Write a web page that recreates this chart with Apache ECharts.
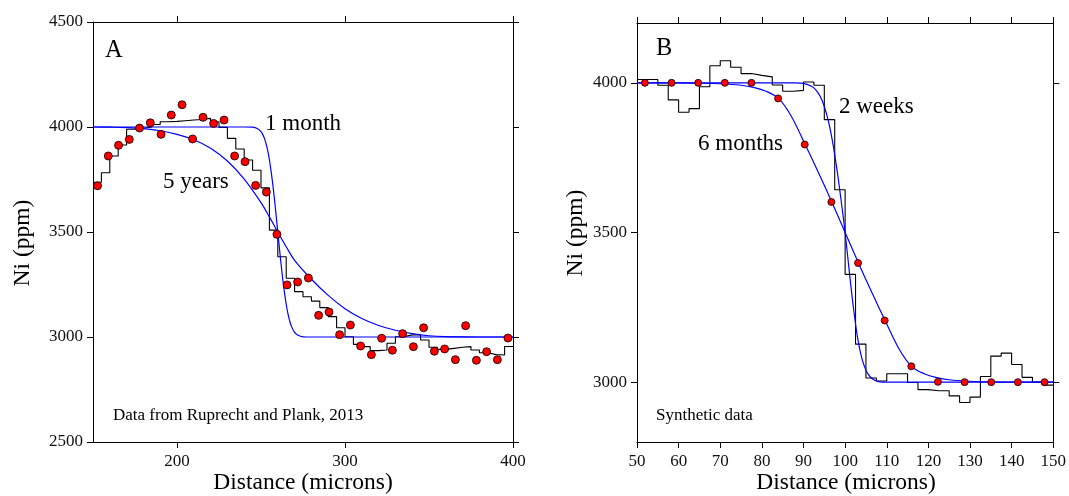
<!DOCTYPE html>
<html><head><meta charset="utf-8">
<script src="https://cdn.jsdelivr.net/npm/echarts@6/dist/echarts.min.js"></script>
<style>html,body{margin:0;padding:0;background:#fff}#c{width:1069px;height:496px}</style>
</head><body><div id="c"></div>
<script>
// ---------- Panel A (Data from Ruprecht and Plank, 2013) ----------
const aPointX = [152.7,159.1,165.2,171.6,177.7,184.1,190.5,196.6,203.0,209.3,215.5,221.8,228.0,234.3,240.5,246.8,253.2,259.5,265.5,271.8,278.2,284.3,290.5,296.8,303.2,309.3,315.7,321.8,328.2,334.3,340.7,346.8,353.2,359.3,365.7,371.8,378.2,384.3,390.7,397.0];
const aPointY = [3720,3862,3913,3941,3995,4020,3965,4057,4106,3943,4046,4017,4033,3862,3835,3722,3690,3489,3248,3262,3281,3103,3119,3011,3057,2957,2916,2994,2937,3016,2954,3044,2932,2943,2892,3054,2889,2930,2892,2995];
const aStepX = [150,155,160,165,170,175,180,185,190,195,200,205,210,215,220,225,230,235,240,245,250,255,260,265,270,275,280,285,290,295,300,305,310,315,320,325,330,335,340,345,350,355,360,365,370,375,380,385,390,395,400];
const aStepY = [3737,3782,3862,3914,3989,3994,4000,4012,4025,4027,4030,4033,4036,4041,4025,3998,3946,3895,3843,3794,3710,3509,3382,3280,3216,3192,3171,3140,3097,3044,3001,2965,2954,2935,2938,2970,3001,3010,3010,2986,2951,2941,2946,2951,2954,2938,2925,2916,2914,2955,2955];
const aMonthX = [150,200,230,240,245,248,250,251,252,253,254,255,256,257,258,259,260,261,262,263,264,265,266,267,268,270,272,275,280,300,350,400];
const aMonthY = [4000,4000,4000,4000,3999,3992,3978,3965,3947,3921,3887,3844,3790,3728,3657,3580,3500,3420,3343,3272,3210,3156,3113,3079,3053,3022,3008,3001,3000,3000,3000,3000];
const aYearsX = [150,160,170,180,190,200,210,220,230,240,250,255,260,265,270,280,290,300,310,320,330,340,350,360,380,400];
const aYearsY = [4000,3999,3997,3992,3982,3965,3939,3899,3838,3752,3640,3572,3500,3430,3365,3275,3198,3135,3088,3055,3032,3016,3006,3002,3000,3000];
const aXTicks = [200,300,400];

// ---------- Panel B (Synthetic data) ----------
const bPointX = [51.9,58.3,64.7,71.1,77.5,83.9,90.3,96.7,103.1,109.5,115.9,122.3,128.7,135.1,141.5,147.9];
const bPointY = [4000,4000,4000,4000,4000,3948,3794,3602,3398,3206,3053,3001,3000,3000,3000,3000];
const bStepX = [50,52.5,55,57.5,60,62.5,65,67.5,70,72.5,75,77.5,80,82.5,85,87.5,90,92.5,95,97.5,100,102.5,105,107.5,110,112.5,115,117.5,120,122.5,125,127.5,130,132.5,135,137.5,140,142.5,145,147.5,150];
const bStepY = [4011,4011,3992,3943,3902,3914,3987,4057,4074,4052,4031,4025,4020,3993,3972,3975,4003,3992,3877,3643,3360,3127,3014,3004,3028,3028,2999,2975,2971,2971,2954,2932,2950,3019,3087,3097,3059,3016,3000,2990,2990];
const bWeeksX = [50,80,88,90,92,93,94,95,96,97,98,99,100,101,102,103,104,105,106,107,108,110,112,120,150];
const bWeeksY = [4000,4000,4000,3998,3988,3976,3955,3921,3871,3802,3714,3611,3500,3370,3248,3148,3080,3040,3018,3007,3002,3000,3000,3000,3000];
const bMonthsX = [50,60,65,70,75,78,81,84,87,90.4,93.6,96.8,100,103.2,106.4,109.6,113,116,119,122,125,130,135,140,150];
const bMonthsY = [4000,4000,3999,3997,3992,3985,3972,3948,3890,3794,3700,3602,3500,3398,3300,3206,3110,3052,3028,3015,3008,3003,3001,3000,3000];
const bYTicks = [3000,3500,4000];

const FONT = '"Liberation Serif", "Times New Roman", serif';
const pairs = (xs, ys) => xs.map((x, i) => [x, ys[i]]);
const plain = v => String(v);

const lineCol = '#000';
function mkAxis(grid, pos, min, max, extra, showLabel, margin) {
  const a = {
    type: 'value', gridIndex: grid, position: pos, min: min, max: max,
    axisLine: { show: true, onZero: false, lineStyle: { color: lineCol, width: 1 } },
    axisTick: { show: true, length: 6, inside: false, lineStyle: { color: lineCol, width: 1 } },
    axisLabel: { show: showLabel, margin: margin, fontSize: 17, fontFamily: FONT, color: '#111', formatter: plain },
    splitLine: { show: false }
  };
  Object.assign(a, extra.axis || {});
  if (extra.ticks) { a.axisTick.customValues = extra.ticks; a.axisLabel.customValues = extra.ticks; }
  return a;
}

const BLUE = '#0000ff';
function curve(xi, yi, xs, ys) {
  return { type: 'line', xAxisIndex: xi, yAxisIndex: yi, data: pairs(xs, ys), showSymbol: false, symbol: 'none',
    smooth: 0.35, lineStyle: { color: BLUE, width: 1.2 }, z: 3, silent: true };
}
function steps(xi, yi, xs, ys) {
  return { type: 'line', xAxisIndex: xi, yAxisIndex: yi, data: pairs(xs, ys), showSymbol: false, symbol: 'none',
    step: 'end', lineStyle: { color: '#000', width: 1.1 }, z: 2, silent: true };
}
function pts(xi, yi, xs, ys, size) {
  return { type: 'scatter', xAxisIndex: xi, yAxisIndex: yi, data: pairs(xs, ys), symbol: 'circle', symbolSize: size,
    itemStyle: { color: '#ff0000', borderColor: '#000', borderWidth: 0.8, opacity: 1 }, z: 4, silent: true };
}
function txt(x, y, s, size, opts) {
  return Object.assign({ type: 'text', x: x, y: y, silent: true,
    style: Object.assign({ text: s, fontSize: size, fontFamily: FONT, fill: '#000', verticalAlign: 'middle', align: 'left' }, (opts && opts.style) || {}) },
    (opts && opts.el) || {});
}

const chart = echarts.init(document.getElementById('c'), null, { renderer: 'canvas' });
chart.setOption({
  animation: false,
  backgroundColor: '#fff',
  grid: [
    { left: 93, top: 22, right: 556, bottom: 54, containLabel: false },
    { left: 637, top: 23, right: 13, bottom: 54, containLabel: false }
  ],
  xAxis: [
    mkAxis(0, 'bottom', 150, 400, { ticks: aXTicks }, true, 11),
    mkAxis(0, 'top', 150, 400, { ticks: aXTicks }, false, 11),
    mkAxis(1, 'bottom', 50, 150, { axis: { interval: 10 } }, true, 11),
    mkAxis(1, 'top', 50, 150, { axis: { interval: 10 } }, false, 11)
  ],
  yAxis: [
    mkAxis(0, 'left', 2500, 4500, { axis: { interval: 500 } }, true, 10),
    mkAxis(0, 'right', 2500, 4500, { axis: { interval: 500 } }, false, 10),
    mkAxis(1, 'left', 2800, 4200, { ticks: bYTicks }, true, 10),
    mkAxis(1, 'right', 2800, 4200, { ticks: bYTicks }, false, 10)
  ],
  series: [
    steps(0, 0, aStepX, aStepY),
    curve(0, 0, aMonthX, aMonthY),
    curve(0, 0, aYearsX, aYearsY),
    pts(0, 0, aPointX, aPointY, 8),
    steps(2, 2, bStepX, bStepY),
    curve(2, 2, bWeeksX, bWeeksY),
    curve(2, 2, bMonthsX, bMonthsY),
    pts(2, 2, bPointX, bPointY, 7)
  ],
  graphic: [
    txt(105, 51, 'A', 24.5),
    txt(656, 49, 'B', 24.5),
    txt(265, 124, '1 month', 23),
    txt(163, 182, '5 years', 23),
    txt(839, 107, '2 weeks', 23),
    txt(698, 144, '6 months', 23),
    txt(113, 416, 'Data from Ruprecht and Plank, 2013', 17),
    txt(656, 416, 'Synthetic data', 17),
    txt(303, 483, 'Distance (microns)', 23.5, { style: { align: 'center' } }),
    txt(846, 483, 'Distance (microns)', 23.5, { style: { align: 'center' } }),
    txt(23, 243, 'Ni (ppm)', 23.5, { style: { align: 'center' }, el: { rotation: Math.PI / 2 } }),
    txt(576, 233, 'Ni (ppm)', 23.5, { style: { align: 'center' }, el: { rotation: Math.PI / 2 } })
  ]
});
</script></body></html>
